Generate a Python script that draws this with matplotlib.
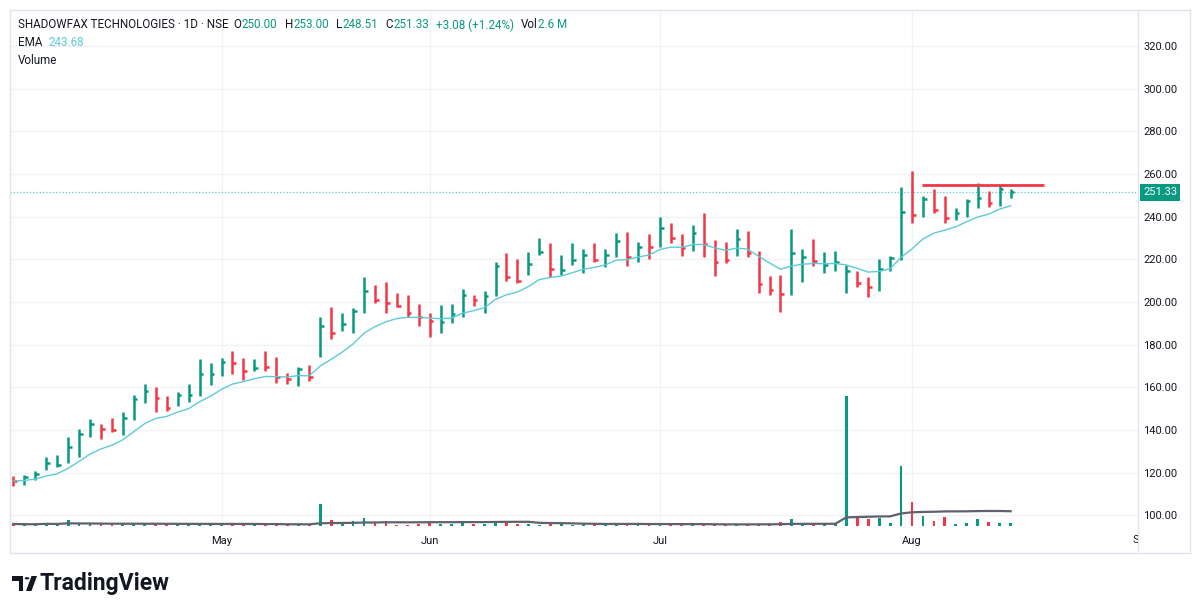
import matplotlib
# Non-GUI backend, we only write a file
matplotlib.use('Agg')

import matplotlib.pyplot as plt
from matplotlib.lines import Line2D
from matplotlib.patches import Polygon, Circle
from matplotlib.transforms import Bbox
import numpy as np
import pandas as pd

# Daily HLC bars (one entry per trading session).
highs = [118.6, 118.9, 120.8, 127.2, 128.2, 136.6, 140.3, 145.3, 142.8, 145.5,
         148.2, 156.3, 161.4, 159.9, 156.0, 157.8, 161.4, 173.1, 171.3, 173.9,
         177.2, 173.9, 173.3, 177.2, 174.4, 166.6, 169.7, 170.5, 192.8, 197.5,
         194.7, 197.4, 211.9, 208.0, 209.5, 204.1, 203.3, 198.9, 194.7, 198.4,
         198.9, 205.9, 203.3, 205.1, 218.9, 223.1, 220.1, 223.3, 229.8, 227.8,
         221.9, 227.5, 224.7, 227.8, 224.7, 232.1, 232.9, 227.9, 231.8, 239.6,
         237.1, 231.8, 236.3, 241.5, 229.0, 228.2, 234.0, 233.4, 223.9, 212.3,
         212.6, 234.0, 225.0, 229.6, 223.3, 224.1, 217.4, 214.7, 211.6, 220.0,
         221.6, 253.8, 261.6, 249.9, 253.0, 249.9, 243.9, 248.2, 256.0, 252.1,
         254.9, 253.0]
lows = [113.5, 114.2, 116.6, 121.3, 122.8, 124.7, 127.1, 136.6, 135.6, 138.9,
        137.7, 144.7, 152.8, 148.6, 149.1, 151.3, 153.3, 156.0, 161.0, 165.5,
        166.3, 163.4, 167.7, 167.4, 161.9, 161.6, 160.8, 163.1, 174.1, 182.7,
        186.6, 185.3, 194.7, 199.7, 195.0, 197.8, 192.8, 188.9, 183.7, 185.3,
        190.0, 192.8, 198.1, 194.7, 202.8, 209.8, 208.7, 212.6, 222.0, 211.6,
        212.6, 217.3, 213.7, 218.9, 216.5, 221.2, 217.0, 218.9, 220.1, 225.6,
        227.8, 221.7, 223.9, 220.9, 212.3, 218.1, 221.5, 220.9, 204.0, 203.2,
        195.1, 203.2, 209.5, 216.9, 213.5, 214.7, 204.1, 206.9, 202.2, 205.2,
        214.6, 219.7, 236.9, 239.7, 241.9, 237.2, 238.5, 239.7, 243.9, 244.7,
        245.2, 248.51]
closes = [116.0, 117.7, 119.2, 124.4, 123.6, 132.2, 138.1, 142.7, 140.5, 140.0,
          145.5, 154.4, 158.3, 154.9, 150.2, 156.4, 156.4, 166.3, 166.1, 172.0,
          171.3, 167.4, 169.2, 169.4, 164.7, 163.9, 168.4, 164.7, 188.5, 185.6,
          189.7, 195.9, 205.3, 201.0, 199.7, 198.3, 195.0, 192.8, 191.2, 190.8,
          194.2, 203.3, 200.9, 202.8, 216.9, 211.9, 209.8, 217.6, 223.6, 215.3,
          215.0, 219.7, 222.0, 219.7, 221.8, 228.5, 221.2, 225.6, 225.9, 234.9,
          230.1, 225.4, 232.1, 227.1, 218.9, 219.6, 229.5, 222.8, 208.2, 205.6,
          203.5, 223.1, 221.0, 219.4, 217.4, 218.5, 214.7, 209.1, 207.2, 215.5,
          220.5, 242.4, 240.8, 248.2, 243.2, 239.3, 241.6, 247.1, 248.6, 246.6,
          252.9, 251.33]
# u = session closed above its open (green), d = below (red)
direction = ("duuuuuuudd" "uuudduuuuu" "ddudddudud" "uuuddddddu" "uuduudduud"
             "uuuduududu" "dduddduddd" "duuduuuddu" "uududduuud" "uu")
# volume, millions of shares
volumes = [1.6, 1.2, 1.3, 2.6, 1.3, 4.5, 1.5, 1.6, 1.2, 1.2,
           1.4, 1.9, 1.3, 2.0, 1.2, 1.2, 1.3, 1.4, 1.3, 1.2,
           1.3, 1.2, 1.1, 1.2, 1.3, 1.1, 1.2, 1.1, 17.0, 4.7,
           3.2, 4.0, 6.3, 2.6, 4.0, 1.0, 1.0, 1.5, 2.9, 1.5,
           1.3, 2.4, 1.3, 1.3, 3.2, 3.2, 1.3, 1.5, 1.1, 1.4,
           1.2, 1.1, 1.2, 1.3, 1.1, 1.2, 1.3, 1.2, 1.3, 1.4,
           1.2, 1.3, 1.2, 1.5, 1.4, 1.3, 1.2, 1.4, 1.8, 1.5,
           3.2, 5.8, 1.8, 1.8, 1.3, 1.3, 101.0, 6.3, 5.8, 6.3,
           2.4, 46.6, 19.0, 7.6, 4.0, 6.8, 1.8, 2.1, 5.5, 3.2,
           2.6, 2.6]

# first session of each month (bar index) and its label
month_pos = [19, 38, 59, 82, 103]
month_labels = ["May", "Jun", "Jul", "Aug", "Sep"]

# hand-drawn resistance line
resistance_level = 254.7
resistance_from = 82.9
resistance_to = 94.0

ema_length = 9
vol_ma_length = 20

GREEN = "#089981"
RED = "#f23645"
EMA_COLOR = "#5ccbd9"
TEXT = "#131722"
GRID = "#f0f2f6"
FRAME = "#e0e3eb"

plt.rcParams['font.family'] = ['Roboto', 'DejaVu Sans']

W, H = 1199, 614
fig = plt.figure(figsize=(W / 100, H / 100), dpi=100)
fig.patch.set_facecolor('white')


def fx(px):
    return px / W


def fy(py):
    return 1 - py / H


# three stacked axes: grid at the back, then volume, then price
rect = [fx(10), fy(526), fx(1138) - fx(10), (526 - 10) / H]
ax_grid = fig.add_axes(rect)
ax_vol = fig.add_axes(rect)
ax = fig.add_axes(rect)
ax_vol.patch.set_visible(False)
ax.patch.set_visible(False)

x = np.arange(len(closes))
colors = [GREEN if d == "u" else RED for d in direction]

xlim = (-0.3, 102.62)
ylim = (94.96, 336.88)
price_ticks = np.arange(100, 321, 20)

ax_grid.set_xlim(*xlim)
ax_grid.set_ylim(*ylim)
ax_grid.set_xticks(month_pos[:-1])
ax_grid.set_yticks(price_ticks)
ax_grid.grid(True, color=GRID, lw=1)
ax_grid.tick_params(length=0, labelbottom=False, labelleft=False)

# Volume pane
ax_vol.bar(x, volumes, width=0.26, color=colors, zorder=2)
vol_ma = pd.Series(volumes).rolling(vol_ma_length, min_periods=1).mean()
ax_vol.plot(x, vol_ma, color="#5f626d", lw=1.6, zorder=3)
ax_vol.set_ylim(0, 401)
ax_vol.set_xticks([])
ax_vol.set_yticks([])

# Price: HLC bars with close tick on the right
ax.vlines(x, lows, highs, colors=colors, lw=1.8, zorder=4)
ax.hlines(closes, x, x + 0.33, colors=colors, lw=1.8, zorder=4)

ema = pd.Series(closes).ewm(span=ema_length, adjust=False).mean()
ax.plot(x, ema, color=EMA_COLOR, lw=1.0, zorder=5)

# last price line + resistance
ax.axhline(closes[-1], color=EMA_COLOR, lw=0.9, ls=(0, (1, 1.6)), zorder=3)
ax.hlines(resistance_level, resistance_from, resistance_to, colors=RED, lw=2.0, zorder=6)

for a in (ax, ax_vol, ax_grid):
    a.set_xlim(*xlim)
    for s in a.spines.values():
        s.set_visible(False)

ax.set_ylim(*ylim)
ax.set_yticks(price_ticks)
ax.set_yticklabels([f"{v:.2f}" for v in price_ticks])
ax.yaxis.tick_right()
ax.set_xticks(month_pos[:-1])
ax.set_xticklabels(month_labels[:-1])
ax.tick_params(axis='y', length=0, pad=3.6, labelsize=8, labelcolor=TEXT)
ax.tick_params(axis='x', length=0, pad=7, labelsize=8, labelcolor=TEXT)

# the next month label gets cut by the price scale
sep_x = ax.transData.transform((month_pos[-1], 0))[0]
sep = fig.text(fx(sep_x), fy(540), month_labels[-1], ha='center', va='center',
               fontsize=8, color=TEXT)
sep.set_clip_on(True)
sep.set_clip_box(Bbox.from_extents(0, 0, 1138, H))

# last price badge
ax.annotate(f"{closes[-1]:.2f}", xy=(1, closes[-1]), xycoords=('axes fraction', 'data'),
            xytext=(3.6, 0), textcoords='offset points', ha='left', va='center',
            fontsize=8, color='white', annotation_clip=False, zorder=10,
            bbox=dict(boxstyle='square,pad=0.3', fc=GREEN, ec='none'))

# chart frame
for xs, ys in [((10, 1190), (10, 10)), ((10, 1190), (553, 553)),
               ((10, 10), (10, 553)), ((1190, 1190), (10, 553)),
               ((1138, 1138), (10, 553))]:
    fig.add_artist(Line2D([fx(v) for v in xs], [fy(v) for v in ys], color=FRAME, lw=1))

# legend rows
renderer = fig.canvas.get_renderer()


def write_row(pieces, x0, y0, size=8.4):
    cur = x0
    for text, color, gap in pieces:
        t = fig.text(fx(cur), fy(y0), text, color=color, fontsize=size, ha='left', va='center')
        cur = t.get_window_extent(renderer).x1 + gap


write_row([("SHADOWFAX TECHNOLOGIES · 1D · NSE", TEXT, 5),
           ("O", TEXT, 0.5), ("250.00", GREEN, 7),
           ("H", TEXT, 0.5), (f"{highs[-1]:.2f}", GREEN, 7),
           ("L", TEXT, 0.5), (f"{lows[-1]:.2f}", GREEN, 7),
           ("C", TEXT, 0.5), (f"{closes[-1]:.2f}", GREEN, 7),
           ("+3.08 (+1.24%)", GREEN, 7),
           ("Vol", TEXT, 0.5), ("2.6 M", GREEN, 0)], 18, 25)
write_row([("EMA", TEXT, 6), ("243.68", EMA_COLOR, 0)], 18, 43)
write_row([("Volume", TEXT, 0)], 18, 60.5)

# TradingView mark
logo = [(12, 576), (23, 576), (23, 591), (18.5, 591), (18.5, 580.5), (12, 580.5)]
fig.add_artist(Polygon([(fx(a), fy(b)) for a, b in logo], closed=True, fc=TEXT, ec='none'))
fig.add_artist(Circle((fx(27), fy(578.3)), 2.3 / W, fc=TEXT, ec='none'))
slash = [(26, 591), (31.5, 591), (37, 576), (31.5, 576)]
fig.add_artist(Polygon([(fx(a), fy(b)) for a, b in slash], closed=True, fc=TEXT, ec='none'))
fig.text(fx(40), fy(583.5), "TradingView", fontsize=16.5, fontweight='bold', color=TEXT,
         ha='left', va='center')

fig.savefig("out.png", dpi=100, facecolor='white')
plt.close(fig)
